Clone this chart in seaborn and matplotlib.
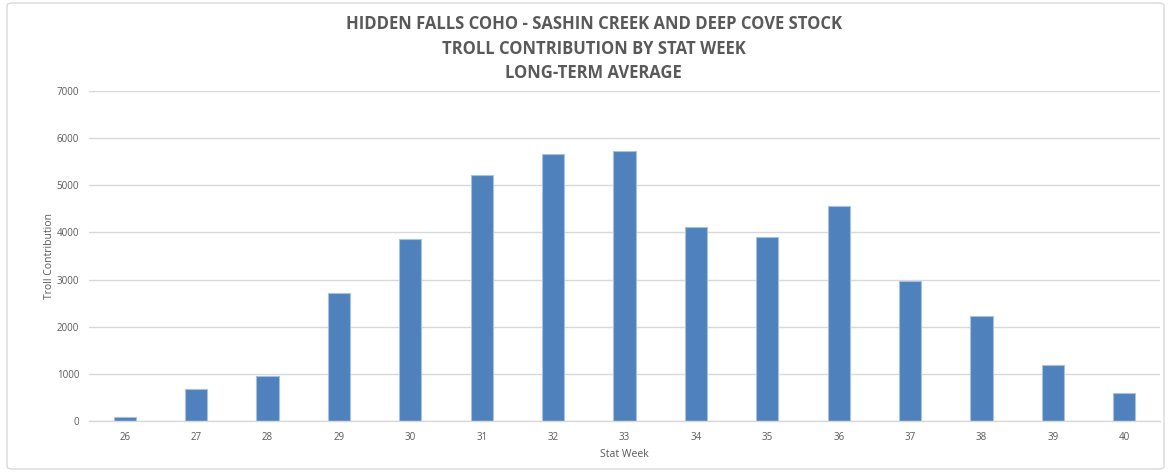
import matplotlib
matplotlib.use("Agg")
import matplotlib.pyplot as plt
import seaborn as sns
import pandas as pd
import numpy as np
from matplotlib.patches import FancyBboxPatch

weeks = ["26", "27", "28", "29", "30", "31", "32", "33", "34", "35", "36", "37", "38", "39", "40"]
contribution = [85, 672, 948, 2722, 3854, 5225, 5657, 5721, 4109, 3897, 4554, 2963, 2234, 1188, 587]
y_ticks = [0, 1000, 2000, 3000, 4000, 5000, 6000, 7000]

title_lines = ["HIDDEN FALLS COHO - SASHIN CREEK AND DEEP COVE STOCK",
               "TROLL CONTRIBUTION BY STAT WEEK",
               "LONG-TERM AVERAGE"]

df = pd.DataFrame({"week": weeks, "value": contribution})

sns.set_theme(style="white")
plt.rcParams['font.family'] = ['Open Sans', 'DejaVu Sans']

fig = plt.figure(figsize=(11.69, 4.74), dpi=100)
ax = fig.add_axes([89/1169, 53/474, (1160-89)/1169, (421-91)/474])

sns.barplot(data=df, x="week", y="value", order=weeks, color="#4F81BD",
            width=0.31, saturation=1, edgecolor="#A9C1E0", linewidth=0.8, ax=ax)

ax.set_xlim(-0.5, len(weeks) - 0.5)
ax.set_ylim(0, 7000)
ax.set_yticks(y_ticks)
ax.set_yticklabels([str(v) for v in y_ticks])
ax.yaxis.grid(True, color="#D9D9D9", linewidth=1)
ax.set_axisbelow(True)
for s in ["top", "right", "left"]:
    ax.spines[s].set_visible(False)
ax.spines["bottom"].set_color("#D9D9D9")
ax.spines["bottom"].set_linewidth(1)

ax.tick_params(axis="y", length=0, labelsize=7, labelcolor="#595959", pad=7)
ax.tick_params(axis="x", which="major", length=0, labelsize=7, labelcolor="#595959", pad=8)
ax.set_xticks(np.arange(-0.5, len(weeks), 1.0), minor=True)
ax.tick_params(axis="x", which="minor", length=5, color="#D9D9D9", width=1, direction="out")

ax.set_xlabel("Stat Week", fontsize=7.5, color="#595959", labelpad=4)
ax.set_ylabel("Troll Contribution", fontsize=7.5, color="#595959", labelpad=1)

for i, line in enumerate(title_lines):
    fig.text(0.508, (474 - 24 - 24.5 * i) / 474, line, ha="center", va="center",
             fontsize=12, fontweight="bold", color="#595959")

border = FancyBboxPatch((7/1169, 5/474), 1157/1169, 466/474,
                        boxstyle="round,pad=0,rounding_size=0.005",
                        transform=fig.transFigure, fill=False,
                        edgecolor="#D9D9D9", linewidth=1)
fig.patches.append(border)

fig.savefig("out.png", dpi=100)
